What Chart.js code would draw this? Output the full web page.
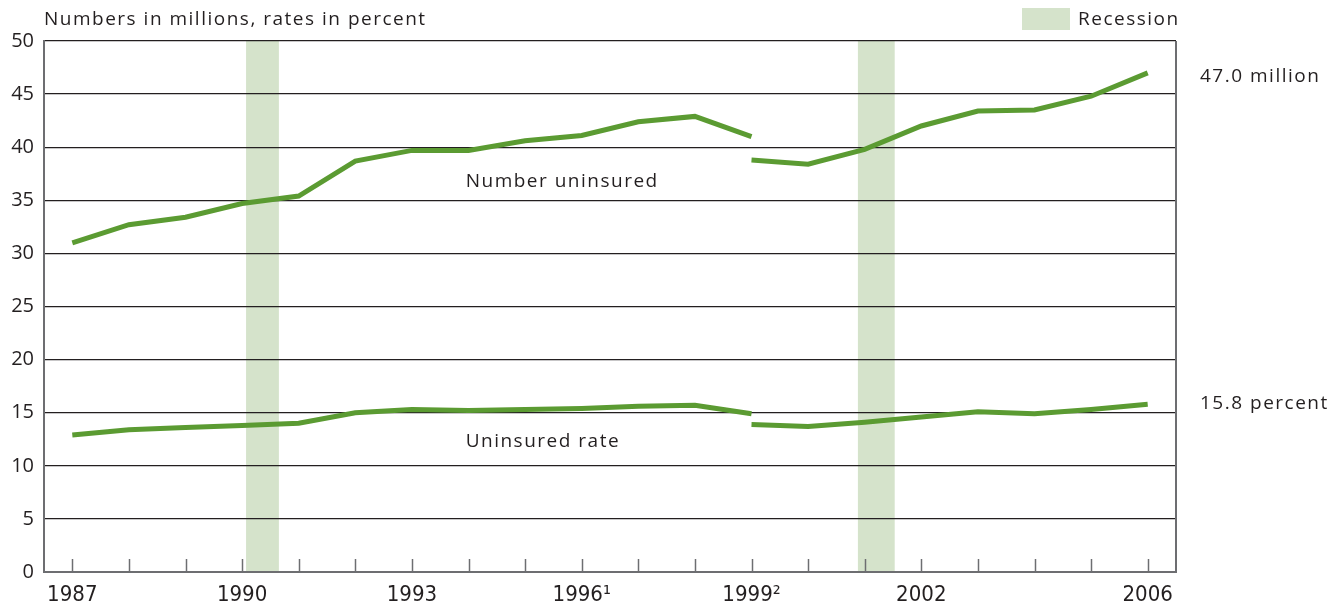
<!DOCTYPE html>
<html>
<head>
<meta charset="utf-8">
<script src="https://cdn.jsdelivr.net/npm/chart.js@4.4.1/dist/chart.umd.min.js"></script>
<style>
  html, body { margin: 0; padding: 0; background: #fff; }
  #wrap { position: relative; width: 1344px; height: 606px; }
</style>
</head>
<body>
<div id="wrap"><canvas id="uninsuredChart" width="1344" height="606"></canvas></div>
<script>
// Data
const yearsBefore = [1987, 1988, 1989, 1990, 1991, 1992, 1993, 1994, 1995, 1996, 1997, 1998, 1999];
const yearsAfter = [1999, 2000, 2001, 2002, 2003, 2004, 2005, 2006];
const uninsuredBefore = [31.0, 32.7, 33.4, 34.7, 35.4, 38.7, 39.7, 39.7, 40.6, 41.1, 42.4, 42.9, 41.0];
const uninsuredAfter = [38.8, 38.4, 39.8, 42.0, 43.4, 43.5, 44.8, 47.0];
const rateBefore = [12.9, 13.4, 13.6, 13.8, 14.0, 15.0, 15.3, 15.2, 15.3, 15.4, 15.6, 15.7, 14.9];
const rateAfter = [13.9, 13.7, 14.1, 14.6, 15.1, 14.9, 15.3, 15.8];
const labelYears = [1987, 1990, 1993, 1996, 1999, 2002, 2006];
const labelTexts = ['1987', '1990', '1993', '1996\u00B9', '1999\u00B2', '2002', '2006'];
const recessionStart = [1990.07, 2000.88];
const recessionEnd = [1990.65, 2001.53];

const GREEN = '#5b9b32';
const RECESSION = '#d5e3cb';
const TEXT = '#231f20';
const AXIS = '#6d6e71';

function toPoints(xs, ys) {
    return xs.map((x, i) => ({ x: x, y: ys[i] }));
}

function lineSet(label, xs, ys) {
    return {
        label: label,
        data: toPoints(xs, ys),
        borderColor: GREEN,
        borderWidth: 5,
        pointRadius: 0,
        tension: 0,
        fill: false
    };
}

// Recession bands, year tick marks, right border and text annotations
const decorations = {
    id: 'decorations',
    beforeDraw(chart) {
        const { ctx, chartArea, scales } = chart;
        ctx.save();
        ctx.fillStyle = RECESSION;
        recessionStart.forEach((start, i) => {
            const x1 = scales.x.getPixelForValue(start);
            const x2 = scales.x.getPixelForValue(recessionEnd[i]);
            ctx.fillRect(x1, chartArea.top, x2 - x1, chartArea.bottom - chartArea.top);
        });
        ctx.restore();
    },
    afterDraw(chart) {
        const { ctx, chartArea, scales } = chart;
        ctx.save();
        // tick marks at every year, pointing up into the plot
        ctx.strokeStyle = AXIS;
        ctx.lineWidth = 1.5;
        const allYears = yearsBefore.concat(yearsAfter.slice(1));
        allYears.forEach(year => {
            const x = Math.round(scales.x.getPixelForValue(year)) + 0.5;
            ctx.beginPath();
            ctx.moveTo(x, chartArea.bottom);
            ctx.lineTo(x, chartArea.bottom - 13);
            ctx.stroke();
        });
        // right border
        ctx.lineWidth = 2;
        ctx.beginPath();
        ctx.moveTo(chartArea.right, chartArea.top);
        ctx.lineTo(chartArea.right, chartArea.bottom + 1);
        ctx.stroke();

        ctx.fillStyle = TEXT;
        ctx.textBaseline = 'middle';
        ctx.font = '19px "Open Sans", "DejaVu Sans", sans-serif';
        ctx.letterSpacing = '1.5px';
        ctx.textAlign = 'left';
        ctx.fillText('Numbers in millions, rates in percent', chartArea.left, 20);

        // legend
        ctx.fillStyle = RECESSION;
        ctx.fillRect(1022, 8, 48, 22);
        ctx.fillStyle = TEXT;
        ctx.fillText('Recession', 1078, 20);

        // series labels
        ctx.fillText('Number uninsured', scales.x.getPixelForValue(1993.95), scales.y.getPixelForValue(36.8));
        ctx.fillText('Uninsured rate', scales.x.getPixelForValue(1993.95), scales.y.getPixelForValue(12.3));

        const endX = chartArea.right + 24;
        const lastCount = uninsuredAfter[uninsuredAfter.length - 1];
        const lastRate = rateAfter[rateAfter.length - 1];
        ctx.fillText(lastCount.toFixed(1) + ' million', endX, scales.y.getPixelForValue(lastCount) + 4);
        ctx.fillText(lastRate.toFixed(1) + ' percent', endX, scales.y.getPixelForValue(lastRate) - 1);
        ctx.restore();
    }
};

const ctx = document.getElementById('uninsuredChart').getContext('2d');
new Chart(ctx, {
    type: 'line',
    data: {
        datasets: [
            lineSet('Number uninsured', yearsBefore, uninsuredBefore),
            lineSet('Number uninsured (revised)', yearsAfter, uninsuredAfter),
            lineSet('Uninsured rate', yearsBefore, rateBefore),
            lineSet('Uninsured rate (revised)', yearsAfter, rateAfter)
        ]
    },
    options: {
        responsive: false,
        animation: false,
        layout: {
            padding: { top: 41, right: 168, bottom: 0, left: 0 }
        },
        plugins: {
            legend: { display: false },
            tooltip: { enabled: false }
        },
        scales: {
            x: {
                type: 'linear',
                min: 1986.5,
                max: 2006.5,
                afterBuildTicks: scale => {
                    scale.ticks = labelYears.map(v => ({ value: v }));
                },
                afterFit: scale => { scale.height = 34; },
                grid: { display: false, drawTicks: false },
                border: { color: AXIS, width: 2 },
                ticks: {
                    autoSkip: false,
                    padding: 10,
                    maxRotation: 0,
                    color: TEXT,
                    font: { family: '"Liberation Sans Narrow", "DejaVu Sans Condensed", sans-serif', size: 22 },
                    callback: value => {
                        const i = labelYears.indexOf(value);
                        return i >= 0 ? labelTexts[i] : '';
                    }
                }
            },
            y: {
                min: 0,
                max: 50,
                afterFit: scale => { scale.width = 44; },
                grid: { color: TEXT, lineWidth: 1.3, drawTicks: false },
                border: { color: AXIS, width: 2 },
                ticks: {
                    autoSkip: false,
                    stepSize: 5,
                    padding: 10,
                    color: TEXT,
                    font: { family: '"Open Sans", "DejaVu Sans", sans-serif', size: 20 }
                }
            }
        }
    },
    plugins: [decorations]
});
</script>
</body>
</html>
